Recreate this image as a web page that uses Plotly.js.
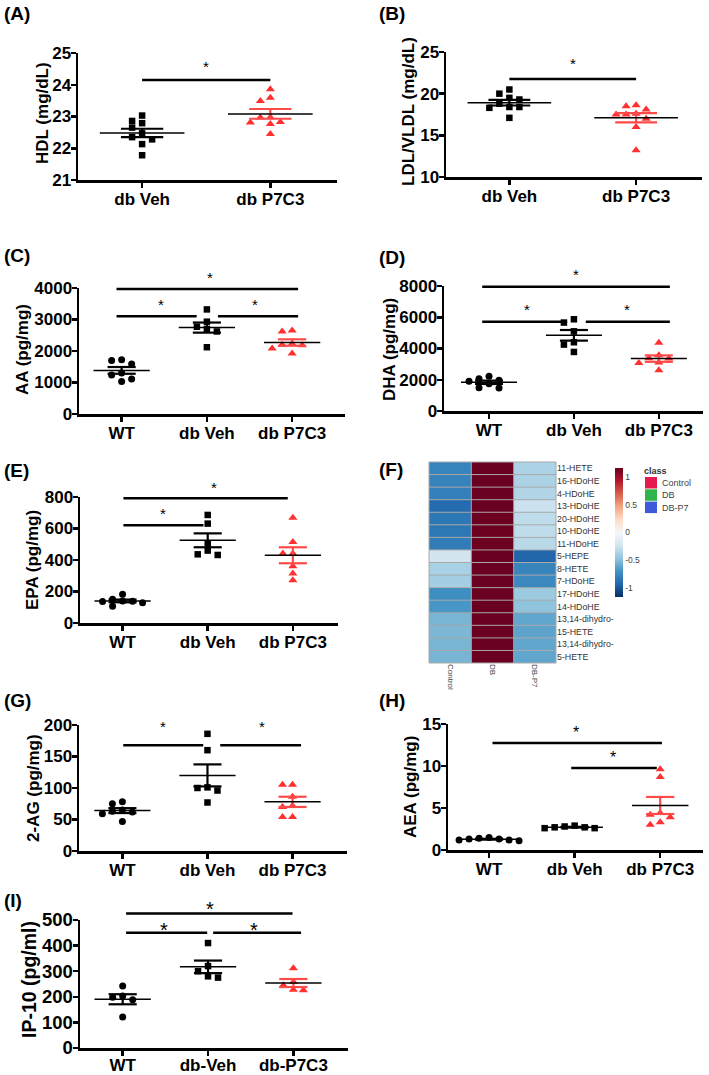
<!DOCTYPE html>
<html><head><meta charset="utf-8">
<script src="https://cdn.plot.ly/plotly-3.0.1.min.js"></script>
<style>html,body{margin:0;padding:0;background:#fff}#chart{width:709px;height:1075px}</style>
</head><body><div id="chart"></div>
<script>
// ---------------- data ----------------
const catsTwo = ['db Veh', 'db P7C3'];
const catsThree = ['WT', 'db Veh', 'db P7C3'];
const catsThreeDash = ['WT', 'db-Veh', 'db-P7C3'];

const hdlDbVeh  = [23.03, 22.86, 22.79, 22.65, 22.47, 22.35, 22.28, 22.13, 21.78];
const hdlDbP7C3 = [23.86, 23.59, 23.49, 22.98, 22.97, 22.83, 22.81, 22.76, 22.45];

const ldlDbVeh  = [20.5, 20.0, 19.5, 19.3, 18.8, 18.4, 18.4, 18.3, 17.1];
const ldlDbP7C3 = [18.6, 18.5, 18.1, 17.6, 17.5, 17.5, 17.0, 16.0, 13.2];

const aaWT     = [1720, 1700, 1590, 1300, 1240, 1110, 1030];
const aaDbVeh  = [3320, 2930, 2770, 2700, 2620, 2120];
const aaDbP7C3 = [2650, 2620, 2230, 2200, 2180, 2080, 1920];

const dhaWT     = [2220, 2070, 1970, 1900, 1750, 1480, 1470];
const dhaDbVeh  = [5870, 5660, 5100, 4400, 4250, 3780];
const dhaDbP7C3 = [4370, 3570, 3380, 3360, 3100, 3080, 2610];

const epaWT     = [182, 150, 140, 138, 136, 128, 106];
const epaDbVeh  = [686, 631, 505, 460, 436, 432];
const epaDbP7C3 = [669, 514, 441, 441, 360, 314, 271];

const agWT     = [78, 75, 65, 63, 62, 59, 47];
const agDbVeh  = [186, 160, 101, 100, 96, 77];
const agDbP7C3 = [105, 105, 86, 72, 70, 54, 54];

const aeaWT     = [1.5, 1.4, 1.3, 1.3, 1.2, 1.2, 1.1];
const aeaDbVeh  = [2.9, 2.8, 2.7, 2.7, 2.6, 2.6];
const aeaDbP7C3 = [9.6, 8.7, 4.4, 4.2, 3.9, 3.3, 3.0];

const ip10WT     = [242, 203, 198, 188, 121];
const ip10DbVeh  = [410, 320, 300, 280, 275];
const ip10DbP7C3 = [312, 258, 245, 228, 226];

// heatmap (row-scaled values)
const heatRows = ['11-HETE','16-HDoHE','4-HDoHE','13-HDoHE','20-HDoHE','10-HDoHE','11-HDoHE',
  '5-HEPE','8-HETE','7-HDoHE','17-HDoHE','14-HDoHE','13,14-dihydro-','15-HETE','13,14-dihydro-','5-HETE'];
const heatCols = ['Control', 'DB', 'DB-P7'];
const heatControl = [-0.78,-0.78,-0.80,-0.90,-0.84,-0.84,-0.82,-0.22,-0.38,-0.40,-0.72,-0.68,-0.54,-0.53,-0.54,-0.54];
const heatDB      = [ 1.15, 1.15, 1.15, 1.15, 1.14, 1.14, 1.14, 1.15, 1.15, 1.15, 1.15, 1.15, 1.15, 1.15, 1.15, 1.15];
const heatDBP7    = [-0.37,-0.37,-0.35,-0.25,-0.30,-0.30,-0.32,-0.93,-0.77,-0.75,-0.43,-0.47,-0.61,-0.62,-0.61,-0.61];
const classNames = ['Control', 'DB', 'DB-P7'];

// ---------------- helpers ----------------
const W = 709, H = 1075;
const FONT = 'Liberation Sans, Arial, Helvetica, sans-serif';
const RED = '#ff3030', REDL = '#ff4a4a';
const traces = [];
const layout = {
  width: W, height: H, margin: {l: 0, r: 0, t: 0, b: 0},
  paper_bgcolor: '#fff', plot_bgcolor: '#fff', showlegend: false,
  font: {family: FONT, color: '#000'}, shapes: [], annotations: []
};

function mean(a) { return a.reduce((s, v) => s + v, 0) / a.length; }
function sem(a) {
  const m = mean(a);
  const sd = Math.sqrt(a.reduce((s, v) => s + (v - m) * (v - m), 0) / (a.length - 1));
  return sd / Math.sqrt(a.length);
}
function swarm(vals, pxY, pxX) {
  const order = vals.map((v, i) => i).sort((a, b) => vals[b] - vals[a]);
  const placed = [], off = new Array(vals.length).fill(0);
  const cands = [0, -1, 1, -2, 2, -3, 3, -4, 4];
  for (const i of order) {
    for (const c of cands) {
      const clash = placed.some(p => p.c === c && Math.abs(p.v - vals[i]) * pxY < 6.5);
      if (!clash) { off[i] = c * 10 / pxX; placed.push({c: c, v: vals[i]}); break; }
    }
  }
  return off;
}

function addPanel(p) {
  const s = p.id === 1 ? '' : String(p.id);
  const xr = p.xr, yr = p.yr;
  const pxX = (p.R - p.L) / (xr[1] - xr[0]);
  const pxY = (p.B - p.T) / (yr[1] - yr[0]);
  const tickSize = p.tickSize || 17;
  layout['xaxis' + s] = {
    domain: [p.L / W, p.R / W], range: xr, anchor: 'y' + s,
    tickmode: 'array', tickvals: p.cats.map((c, i) => i), ticktext: p.cats,
    showline: true, linewidth: 2.5, linecolor: '#000', mirror: false,
    ticks: 'outside', ticklen: 5, tickwidth: 2.5, tickcolor: '#000',
    ticklabelstandoff: p.xStandoff !== undefined ? p.xStandoff : -3,
    showgrid: false, zeroline: false, fixedrange: true,
    tickfont: {family: FONT, size: p.xTickSize || 17, weight: 'bold', color: '#000'}
  };
  layout['yaxis' + s] = {
    domain: [1 - p.B / H, 1 - p.T / H], range: yr, anchor: 'x' + s,
    tickmode: 'array', tickvals: p.yt,
    showline: true, linewidth: 2.5, linecolor: '#000',
    ticks: 'outside', ticklen: 5, tickwidth: 2.5, tickcolor: '#000',
    ticklabelstandoff: -4,
    showgrid: false, zeroline: false, fixedrange: true,
    tickfont: {family: FONT, size: tickSize, weight: 'bold', color: '#000'}
  };
  // points
  p.groups.forEach((g, k) => {
    const off = swarm(g.vals, pxY, pxX);
    traces.push({
      type: 'scatter', mode: 'markers', xaxis: 'x' + s, yaxis: 'y' + s,
      x: g.vals.map((v, i) => k + off[i]), y: g.vals, cliponaxis: false,
      marker: {symbol: g.symbol, size: g.size, color: g.color, line: {width: 0}},
      hoverinfo: 'y'
    });
  });
  // mean & sem
  p.groups.forEach((g, k) => {
    const m = mean(g.vals), e = sem(g.vals);
    traces.push({
      type: 'scatter', mode: 'lines', xaxis: 'x' + s, yaxis: 'y' + s,
      x: [k - 0.165, k + 0.165, null, k, k, null, k - 0.165, k + 0.165],
      y: [m + e, m + e, null, m - e, m + e, null, m - e, m - e],
      line: {color: g.semColor, width: 2.2}, hoverinfo: 'skip'
    });
    traces.push({
      type: 'scatter', mode: 'lines', xaxis: 'x' + s, yaxis: 'y' + s,
      x: [k - 0.33, k + 0.33], y: [m, m],
      line: {color: '#000', width: 1.5}, hoverinfo: 'skip'
    });
  });
  const fx = v => (v - xr[0]) / (xr[1] - xr[0]);
  const fy = v => (v - yr[0]) / (yr[1] - yr[0]);
  (p.bars || []).forEach(b => {
    layout.shapes.push({
      type: 'line', xref: 'x' + s + ' domain', yref: 'y' + s + ' domain',
      x0: fx(b[0]), x1: fx(b[1]), y0: fy(b[2]), y1: fy(b[2]),
      line: {color: '#000', width: 2.5}
    });
  });
  const starSize = p.starSize || 15;
  (p.stars || []).forEach(st => {
    layout.annotations.push({
      xref: 'x' + s + ' domain', yref: 'y' + s + ' domain', x: fx(st[0]), y: fy(st[1]),
      text: '*', showarrow: false, xanchor: 'center', yanchor: 'middle',
      yshift: -0.28 * starSize, font: {family: FONT, size: starSize, color: '#000'}
    });
  });
  // axis title
  layout.annotations.push({
    xref: 'paper', yref: 'paper', x: p.tx / W, y: 1 - p.ty / H, text: p.title,
    textangle: -90, showarrow: false, xanchor: 'center', yanchor: 'middle',
    font: {family: FONT, size: p.titleSize || 17, weight: 'bold', color: '#000'}
  });
  // panel label
  layout.annotations.push({
    xref: 'paper', yref: 'paper', x: p.lx / W, y: 1 - p.ly / H, text: p.label,
    showarrow: false, xanchor: 'left', yanchor: 'middle',
    font: {family: FONT, size: 19, weight: 'bold', color: '#000'}
  });
}

const sq = (v) => ({vals: v, symbol: 'square', size: 6.5, color: '#000', semColor: '#000'});
const ci = (v) => ({vals: v, symbol: 'circle', size: 7, color: '#000', semColor: '#000'});
const tr = (v) => ({vals: v, symbol: 'triangle-up', size: 8, color: RED, semColor: REDL});

// (A)
addPanel({id: 1, label: '(A)', lx: 2, ly: 13, L: 78, R: 337, T: 53, B: 180,
  xr: [-0.5, 1.52], yr: [21, 25], yt: [21, 22, 23, 24, 25], cats: catsTwo,
  groups: [sq(hdlDbVeh), tr(hdlDbP7C3)],
  bars: [[0, 1, 24.15]], stars: [[0.5, 24.7]],
  title: 'HDL (mg/dL)', tx: 42, ty: 113});
// (B)
addPanel({id: 2, label: '(B)', lx: 377, ly: 13, L: 446, R: 702, T: 52, B: 177,
  xr: [-0.5, 1.52], yr: [10, 25], yt: [10, 15, 20, 25], cats: catsTwo,
  groups: [sq(ldlDbVeh), tr(ldlDbP7C3)],
  bars: [[0, 1, 21.75]], stars: [[0.5, 24.1]],
  title: 'LDL/VLDL (mg/dL)', tx: 409, ty: 112});
// (C)
addPanel({id: 3, label: '(C)', lx: 2, ly: 255, L: 79, R: 345, T: 288, B: 414,
  xr: [-0.5, 2.62], yr: [0, 4000], yt: [0, 1000, 2000, 3000, 4000], cats: catsThree,
  groups: [ci(aaWT), sq(aaDbVeh), tr(aaDbP7C3)],
  bars: [[-0.06, 2.07, 3970], [-0.06, 0.88, 3100], [1.13, 2.07, 3100]],
  stars: [[1.04, 4480], [0.46, 3620], [1.56, 3620]],
  title: 'AA (pg/mg)', tx: 22, ty: 350});
// (D)
addPanel({id: 4, label: '(D)', lx: 377, ly: 257, L: 444, R: 703, T: 286, B: 411,
  xr: [-0.53, 2.52], yr: [0, 8000], yt: [0, 2000, 4000, 6000, 8000], cats: catsThree,
  groups: [ci(dhaWT), sq(dhaDbVeh), tr(dhaDbP7C3)],
  bars: [[-0.08, 2.13, 7950], [-0.08, 0.92, 5710], [1.14, 2.13, 5710]],
  stars: [[1.02, 9020], [0.45, 6780], [1.62, 6780]],
  title: 'DHA (pg/mg)', tx: 389, ty: 350});
// (E)
addPanel({id: 5, label: '(E)', lx: 2, ly: 470, L: 80, R: 338, T: 497, B: 623,
  xr: [-0.5, 2.53], yr: [0, 800], yt: [0, 200, 400, 600, 800], cats: catsThree,
  groups: [ci(epaWT), sq(epaDbVeh), tr(epaDbP7C3)],
  bars: [[0.01, 1.94, 792], [0.01, 0.95, 620]],
  stars: [[1.07, 889], [0.47, 720]],
  title: 'EPA (pg/mg)', tx: 32, ty: 560});
// (G)
addPanel({id: 7, label: '(G)', lx: 2, ly: 700, L: 79, R: 347, T: 725, B: 851,
  xr: [-0.51, 2.64], yr: [0, 200], yt: [0, 50, 100, 150, 200], cats: catsThree,
  groups: [ci(agWT), sq(agDbVeh), tr(agDbP7C3)],
  bars: [[0.01, 0.95, 168], [1.15, 2.1, 168]],
  stars: [[0.48, 204], [1.64, 204]],
  title: '2-AG (pg/mg)', tx: 33, ty: 788});
// (H)
addPanel({id: 8, label: '(H)', lx: 377, ly: 700, L: 448, R: 703, T: 724, B: 850,
  xr: [-0.48, 2.5], yr: [0, 15], yt: [0, 5, 10, 15], cats: catsThree,
  groups: [ci(aeaWT), sq(aeaDbVeh), tr(aeaDbP7C3)],
  bars: [[0.04, 2.02, 12.74], [0.96, 1.96, 9.76]],
  stars: [[1.02, 14.5], [1.45, 11.6]], starSize: 16,
  title: 'AEA (pg/mg)', tx: 410, ty: 787});
// (I)
addPanel({id: 9, label: '(I)', lx: 2, ly: 900, L: 80, R: 348, T: 920, B: 1048,
  xr: [-0.5, 2.64], yr: [0, 500], yt: [0, 100, 200, 300, 400, 500], cats: catsThreeDash,
  groups: [ci(ip10WT), sq(ip10DbVeh), tr(ip10DbP7C3)],
  bars: [[0.04, 1.99, 525], [0.04, 0.99, 450], [1.06, 2.09, 450]],
  stars: [[1.02, 564], [0.48, 482.5], [1.54, 482.5]], starSize: 20,
  tickSize: 18.5, titleSize: 19.5, xStandoff: -5,
  title: 'IP-10 (pg/ml)', tx: 29, ty: 980});

// ---------------- (F) heatmap ----------------
const hL = 429, hR = 556, hT = 462, hB = 663;
const zMat = heatRows.map((r, i) => [heatControl[i], heatDB[i], heatDBP7[i]]);
traces.push({
  type: 'heatmap', xaxis: 'x6', yaxis: 'y6',
  x: heatCols.map((c, i) => i), y: heatRows.map((r, i) => i), z: zMat,
  zmin: -1.16, zmax: 1.16, hoverinfo: 'z',
  colorscale: [[0, '#053061'], [0.1, '#2166ac'], [0.2, '#4393c3'], [0.3, '#92c5de'], [0.4, '#d1e5f0'],
    [0.5, '#f7f7f7'], [0.6, '#fddbc7'], [0.7, '#f4a582'], [0.8, '#d6604d'], [0.9, '#b2182b'], [1, '#67001f']],
  colorbar: {
    x: 615 / W, xanchor: 'left', y: 1 - 532.5 / H, yanchor: 'middle',
    lenmode: 'pixels', len: 129, thicknessmode: 'pixels', thickness: 8,
    outlinewidth: 0, xpad: 0, ypad: 0, ticks: '', ticklabelpad: 3,
    tickmode: 'array', tickvals: [-1, -0.5, 0, 0.5, 1], ticktext: ['-1', '-0.5', '0', '0.5', '1'],
    tickfont: {family: FONT, size: 8.5, color: '#444'}
  }
});
layout.xaxis6 = {domain: [hL / W, hR / W], range: [-0.5, 2.5], anchor: 'y6',
  tickmode: 'array', tickvals: [0, 1, 2], ticktext: heatCols, tickangle: 90, ticks: '',
  showline: false, showgrid: false, zeroline: false, fixedrange: true,
  tickfont: {family: FONT, size: 8, color: '#444'}};
layout.yaxis6 = {domain: [1 - hB / H, 1 - hT / H], range: [15.5, -0.5], anchor: 'x6', side: 'right',
  tickmode: 'array', tickvals: heatRows.map((r, i) => i), ticktext: heatRows, ticks: '',
  showline: false, showgrid: false, zeroline: false, fixedrange: true,
  tickfont: {family: FONT, size: 8.8, color: '#333'}};
for (let i = 1; i < heatRows.length; i++) {
  const yy = 1 - i / heatRows.length;
  layout.shapes.push({type: 'line', xref: 'x6 domain', yref: 'y6 domain', x0: 0, x1: 1, y0: yy, y1: yy,
    line: {color: '#a9a9a9', width: 1}});
}
for (let j = 1; j < heatCols.length; j++) {
  const xx = j / heatCols.length;
  layout.shapes.push({type: 'line', xref: 'x6 domain', yref: 'y6 domain', x0: xx, x1: xx, y0: 0, y1: 1,
    line: {color: '#a9a9a9', width: 1}});
}
layout.shapes.push({type: 'rect', xref: 'x6 domain', yref: 'y6 domain', x0: 0, x1: 1, y0: 0, y1: 1,
  line: {color: '#a9a9a9', width: 1}});
layout.annotations.push({xref: 'paper', yref: 'paper', x: 377 / W, y: 1 - 469 / H, text: '(F)',
  showarrow: false, xanchor: 'left', yanchor: 'middle', font: {family: FONT, size: 19, weight: 'bold', color: '#000'}});
// class legend
layout.annotations.push({xref: 'paper', yref: 'paper', x: 642 / W, y: 1 - 471 / H, text: 'class',
  showarrow: false, xanchor: 'left', yanchor: 'middle', font: {family: FONT, size: 9, weight: 'bold', color: '#333'}});
const classColors = ['#e3194f', '#2fb34a', '#3d5bd9'];
classNames.forEach((c, i) => {
  const top = 477 + i * 12.3;
  layout.shapes.push({type: 'rect', xref: 'paper', yref: 'paper', x0: 645 / W, x1: 657 / W,
    y0: 1 - (top + 11.5) / H, y1: 1 - top / H, fillcolor: classColors[i], line: {width: 0}});
  layout.annotations.push({xref: 'paper', yref: 'paper', x: 660 / W, y: 1 - (top + 6) / H, text: c,
    showarrow: false, xanchor: 'left', yanchor: 'middle', font: {family: FONT, size: 9, color: '#444'}});
});

Plotly.newPlot('chart', traces, layout, {displayModeBar: false, staticPlot: true});
</script>
</body></html>
